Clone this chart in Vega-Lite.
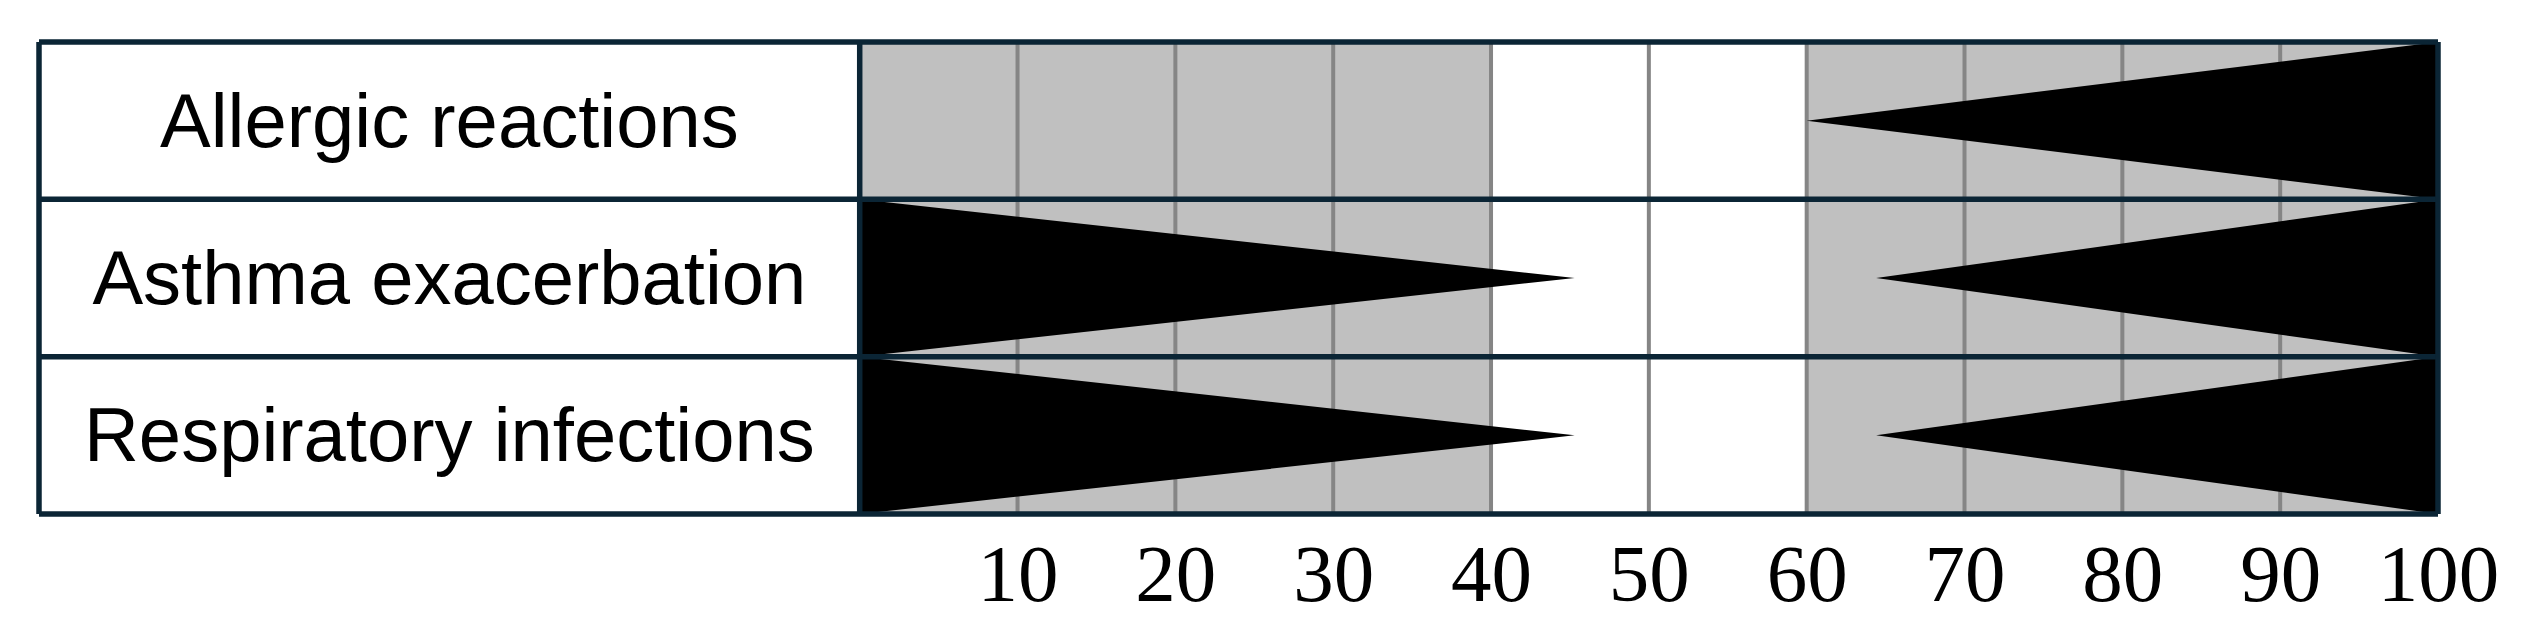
{
  "$schema": "https://vega.github.io/schema/vega-lite/v6.json",
  "width": 2399,
  "height": 472,
  "autosize": {"type": "none"},
  "padding": {"left": 39, "top": 42, "right": 85, "bottom": 122},
  "background": "white",
  "config": {"view": {"stroke": null}},
  "datasets": {
    "bands": [
      {"from": 0, "to": 40, "bottom": 0, "top": 3},
      {"from": 60, "to": 100, "bottom": 0, "top": 3}
    ],
    "grid": [
      {"pos": 10}, {"pos": 20}, {"pos": 30}, {"pos": 40}, {"pos": 50},
      {"pos": 60}, {"pos": 70}, {"pos": 80}, {"pos": 90}
    ],
    "triangles": [
      {"condition": "Allergic reactions", "side": "right", "x": 60, "lo": 2.5, "hi": 2.5},
      {"condition": "Allergic reactions", "side": "right", "x": 100, "lo": 2, "hi": 3},
      {"condition": "Asthma exacerbation", "side": "left", "x": 0, "lo": 1, "hi": 2},
      {"condition": "Asthma exacerbation", "side": "left", "x": 45.3, "lo": 1.5, "hi": 1.5},
      {"condition": "Asthma exacerbation", "side": "right", "x": 64.4, "lo": 1.5, "hi": 1.5},
      {"condition": "Asthma exacerbation", "side": "right", "x": 100, "lo": 1, "hi": 2},
      {"condition": "Respiratory infections", "side": "left", "x": 0, "lo": 0, "hi": 1},
      {"condition": "Respiratory infections", "side": "left", "x": 45.3, "lo": 0.5, "hi": 0.5},
      {"condition": "Respiratory infections", "side": "right", "x": 64.4, "lo": 0.5, "hi": 0.5},
      {"condition": "Respiratory infections", "side": "right", "x": 100, "lo": 0, "hi": 1}
    ],
    "borders": [
      {"x": -52, "x2": 100, "y": 0, "y2": 0},
      {"x": -52, "x2": 100, "y": 1, "y2": 1},
      {"x": -52, "x2": 100, "y": 2, "y2": 2},
      {"x": -52, "x2": 100, "y": 3, "y2": 3},
      {"x": -52, "x2": -52, "y": 0, "y2": 3},
      {"x": 0, "x2": 0, "y": 0, "y2": 3},
      {"x": 100, "x2": 100, "y": 0, "y2": 3}
    ],
    "rows": [
      {"condition": "Allergic reactions", "center": -26, "mid": 2.5},
      {"condition": "Asthma exacerbation", "center": -26, "mid": 1.5},
      {"condition": "Respiratory infections", "center": -26, "mid": 0.5}
    ]
  },
  "layer": [
    {
      "data": {"name": "bands"},
      "mark": {"type": "rect", "color": "#c0c0c0"},
      "encoding": {
        "x": {
          "field": "from", "type": "quantitative",
          "scale": {"domain": [-52, 100], "nice": false, "zero": false},
          "axis": {
            "values": [10, 20, 30, 40, 50, 60, 70, 80, 90, 100],
            "title": null, "domain": false, "ticks": false, "tickSize": 0, "grid": false,
            "labelFont": "Liberation Serif", "labelFontSize": 81, "labelColor": "black",
            "labelBaseline": "alphabetic", "labelPadding": 86,
            "labelFlush": false, "labelOverlap": false, "labelBound": false
          }
        },
        "x2": {"field": "to"},
        "y": {"field": "bottom", "type": "quantitative", "scale": {"domain": [0, 3], "nice": false, "zero": false}, "axis": null},
        "y2": {"field": "top"}
      }
    },
    {
      "data": {"name": "grid"},
      "mark": {"type": "rule", "color": "#858585", "strokeWidth": 4},
      "encoding": {
        "x": {"field": "pos", "type": "quantitative"},
        "y": {"datum": 0, "type": "quantitative"},
        "y2": {"datum": 3}
      }
    },
    {
      "data": {"name": "triangles"},
      "mark": {"type": "area", "color": "black", "opacity": 1, "interpolate": "linear"},
      "encoding": {
        "x": {"field": "x", "type": "quantitative"},
        "y": {"field": "lo", "type": "quantitative", "stack": null},
        "y2": {"field": "hi"},
        "detail": [{"field": "condition"}, {"field": "side"}]
      }
    },
    {
      "data": {"name": "borders"},
      "mark": {"type": "rule", "color": "#0b2535", "strokeWidth": 5.5},
      "encoding": {
        "x": {"field": "x", "type": "quantitative"},
        "x2": {"field": "x2"},
        "y": {"field": "y", "type": "quantitative"},
        "y2": {"field": "y2"}
      }
    },
    {
      "data": {"name": "rows"},
      "mark": {"type": "text", "font": "Liberation Sans", "fontSize": 76, "color": "black", "align": "center", "baseline": "alphabetic", "dy": 26},
      "encoding": {
        "x": {"field": "center", "type": "quantitative"},
        "y": {"field": "mid", "type": "quantitative"},
        "text": {"field": "condition"}
      }
    }
  ]
}
